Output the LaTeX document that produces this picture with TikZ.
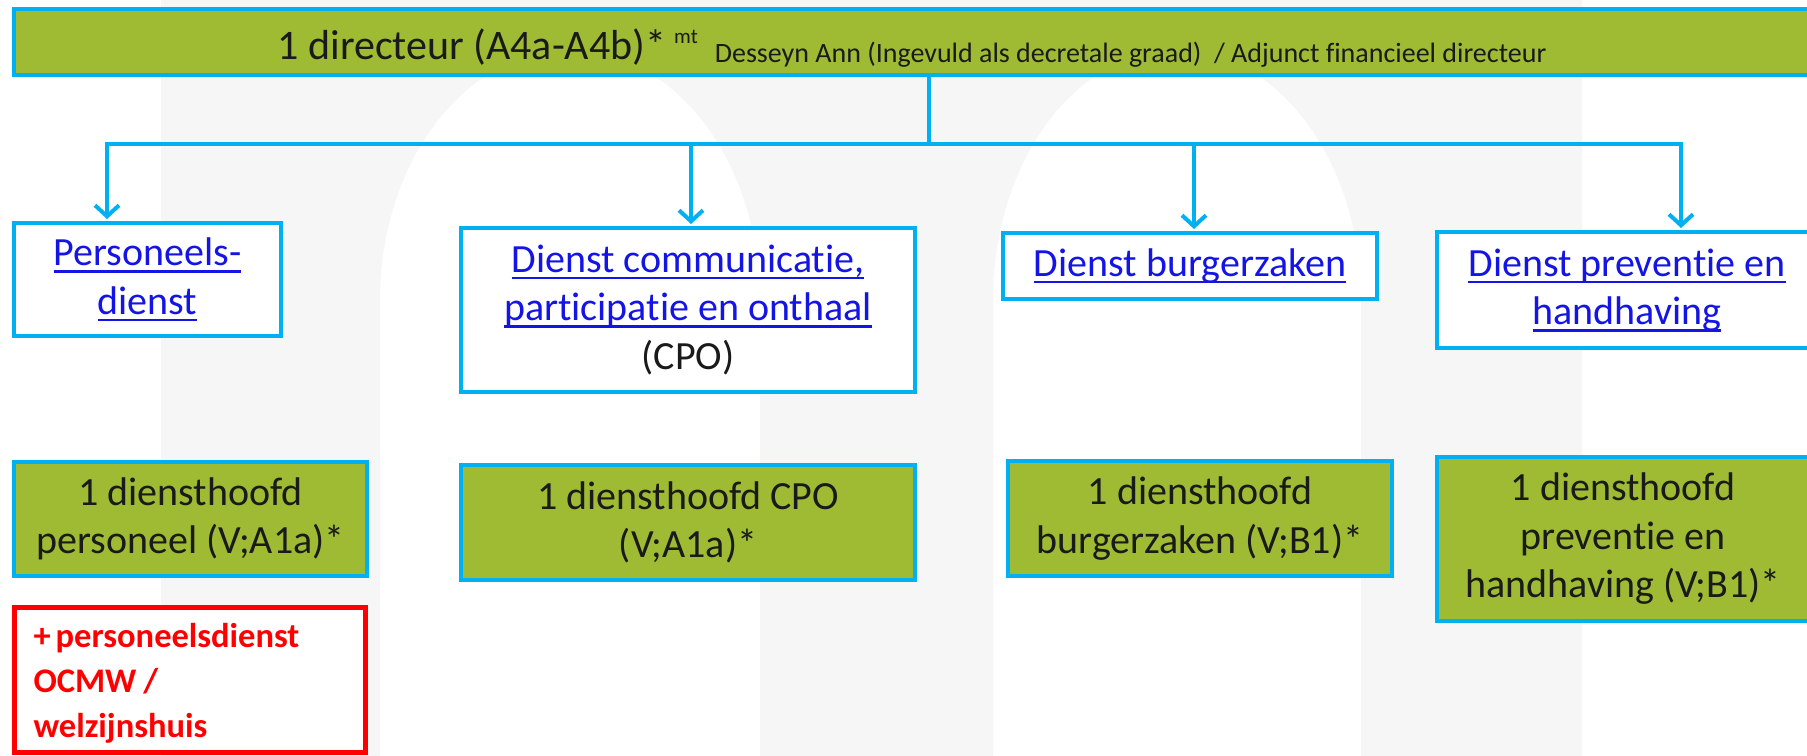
\documentclass[tikz,border=0pt]{standalone}
\usepackage{fontspec}
\setmainfont{Carlito}[Ligatures=NoCommon]
\usetikzlibrary{arrows.meta}
\definecolor{bggray}{HTML}{F6F6F6}
\definecolor{boxgreen}{HTML}{9EBB33}
\definecolor{cyanline}{HTML}{00B0F0}
\definecolor{linkblue}{HTML}{1414E6}
\definecolor{redline}{HTML}{FF0000}
\definecolor{txt}{HTML}{1A1A1A}
\newcommand{\lnk}[1]{{\color{linkblue}\setbox0\hbox{#1}\rlap{\rule[-7pt]{\wd0}{2.5pt}}\box0}}
\begin{document}
\begin{tikzpicture}[x=1pt,y=-1pt,
  wbox/.style={draw=cyanline, line width=4pt, fill=white, align=center, inner sep=0pt,
    text=txt, font=\fontsize{40}{48.5}\selectfont},
  gbox/.style={wbox, fill=boxgreen},
  rbox/.style={draw=redline, line width=5pt, fill=white, align=left, inner xsep=19pt, inner ysep=0pt,
    text=redline, font=\bfseries\fontsize{34.5}{45}\selectfont},
  conn/.style={draw=cyanline, line width=4pt},
  arr/.style={conn, -{Straight Barb[length=11pt,width=24pt]}, shorten >=2pt}]
\useasboundingbox (0,0) rectangle (1807,755);
\clip (0,0) rectangle (1807,755);
\fill[white] (0,0) rectangle (1807,755);
% background watermark
\fill[bggray, even odd rule] (161,0) rectangle (1582,760)
  (380,760) -- (380,300) .. controls (380,161.9) and (465.1,50) .. (570,50)
     .. controls (674.9,50) and (760,161.9) .. (760,300) -- (760,760) -- cycle
  (993,760) -- (993,300) .. controls (993,161.9) and (1075.4,50) .. (1177,50)
     .. controls (1278.6,50) and (1361,161.9) .. (1361,300) -- (1361,760) -- cycle;
% top bar
\node[gbox, minimum width=1796pt, minimum height=66pt, text height=42.5pt, text depth=8.5pt] (top) at (912,42)
  {\fontsize{42}{43}\selectfont 1 directeur (A4a-A4b)*\hspace{8pt}\raisebox{16pt}{\fontsize{21}{21}\selectfont mt}\hspace{17pt}\raisebox{-3pt}{\fontsize{28}{28}\selectfont Desseyn Ann (Ingevuld als decretale graad)\ \ / Adjunct financieel directeur}};
% department boxes
\node[wbox, minimum width=267pt, minimum height=113pt] (b1) at (147.5,279.5)
  {\lnk{Personeels-}\\\lnk{dienst}};
\node[wbox, minimum width=454pt, minimum height=164pt] (b2) at (688,310)
  {\lnk{Dienst communicatie,}\\\lnk{participatie en onthaal}\\(CPO)};
\node[wbox, minimum width=374pt, minimum height=66pt] (b3) at (1190,266)
  {\lnk{Dienst burgerzaken}};
\node[wbox, minimum width=380pt, minimum height=116pt] (b4) at (1627,290)
  {\lnk{Dienst preventie en}\\\lnk{handhaving}};
% heads
\node[gbox, minimum width=353pt, minimum height=114pt] (g1) at (190.5,519)
  {1 diensthoofd\\personeel (V;A1a)*};
\node[gbox, minimum width=454pt, minimum height=115pt] (g2) at (688,522.5)
  {1 diensthoofd CPO\\(V;A1a)*};
\node[gbox, minimum width=384pt, minimum height=115pt] (g3) at (1200,518.5)
  {1 diensthoofd\\burgerzaken (V;B1)*};
\node[gbox, minimum width=372pt, minimum height=164pt] (g4) at (1623,539)
  {1 diensthoofd\\preventie en\\handhaving (V;B1)*};
\node[rbox, minimum width=351pt, minimum height=145pt, text width=313pt, text height=35pt, text depth=101pt] (r1) at (190,680)
  {+\hspace{5pt}personeelsdienst\\OCMW\hspace{7pt}/\\welzijnshuis};
% connectors
\coordinate (hc) at (929,144);
\coordinate (h1) at (107,144);
\coordinate (h2) at (691,144);
\coordinate (h3) at (1194,144);
\coordinate (h4) at (1681,144);
\draw[conn] (top.south -| hc) -- (hc);
\draw[conn, line cap=rect] (h1) -- (h4);
\draw[arr] (h1) -- (h1 |- b1.north);
\draw[arr] (h2) -- (h2 |- b2.north);
\draw[arr] (h3) -- (h3 |- b3.north);
\draw[arr] (h4) -- (h4 |- b4.north);
\end{tikzpicture}
\end{document}
